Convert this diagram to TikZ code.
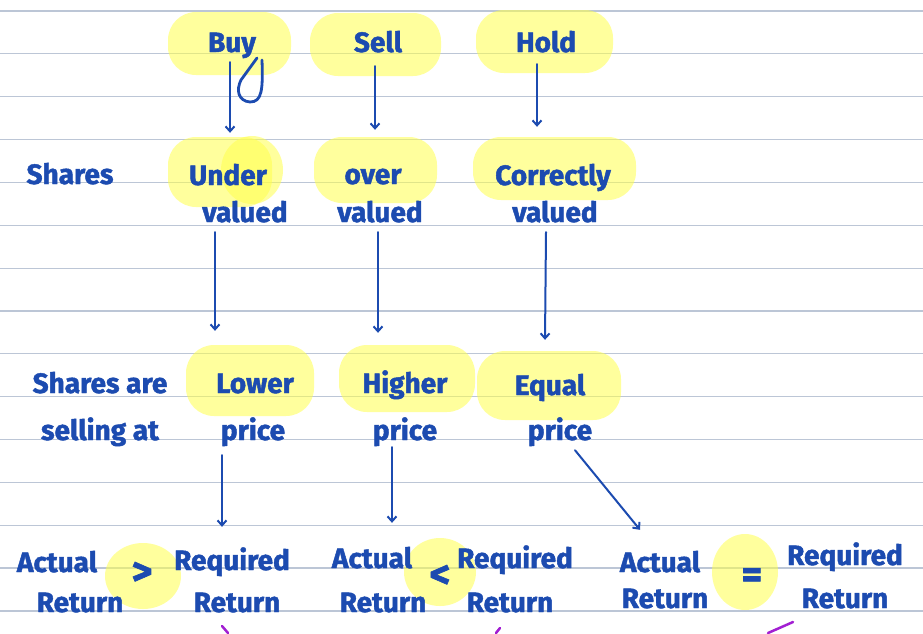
\documentclass[tikz,border=0pt]{standalone}
\usepackage{fontspec}
\setmainfont{Fira Sans}[FakeBold=1.6]
\usetikzlibrary{arrows.meta}
\definecolor{ink}{HTML}{1C4BB0}
\definecolor{ruleline}{HTML}{BCC6D6}
\definecolor{hl}{HTML}{FFFF4D}
\definecolor{pen}{HTML}{A21FD2}
\tikzset{
  hw/.style={font=\fontsize{28}{32}\selectfont\bfseries, text=ink, anchor=base,
             inner sep=1pt, text height=18pt, text depth=6pt},
  sym/.style={hw, font=\fontsize{40}{44}\selectfont\bfseries},
  hilite/.style={fill=hl, fill opacity=0.55},
  blob/.style={hilite, rounded corners=28pt},
  arr/.style={draw=ink, line width=2pt, line cap=round,
              -{Straight Barb[length=5pt,width=9pt]}},
  ruling/.style={draw=ruleline, line width=1.2pt},
  stroke/.style={draw=ink, line width=2.8pt, line cap=round},
}
\begin{document}
\begin{tikzpicture}[x=1pt,y=-1pt]
\useasboundingbox (0,0) rectangle (923,633);
\fill[white] (0,0) rectangle (923,633);

% ruled paper
\foreach \k in {0,...,14}
  \draw[ruling] (0,{11+42.85*\k}) -- (923,{11+42.85*\k});

% highlighter marks
\fill[blob] (168,12) rectangle (291,75);
\fill[blob] (310,13) rectangle (441,76);
\fill[blob] (476,10) rectangle (613,73);
\fill[blob] (168,137) rectangle (272,207);
\fill[hilite] (252,170) ellipse [x radius=31, y radius=34];
\fill[blob] (314,137) rectangle (437,203);
\fill[blob] (473,137) rectangle (636,200);
\fill[blob] (186,345) rectangle (314,416);
\fill[blob] (339,345) rectangle (475,412);
\fill[blob] (477,351) rectangle (621,420);
\fill[hilite] (143,576) ellipse [x radius=38, y radius=33];
\fill[hilite] (440,572) ellipse [x radius=36, y radius=34];
\fill[hilite] (745,572) ellipse [x radius=33, y radius=38];

% first row: decisions
\node[hw] (buy)  at (232,52) {Buy};
\node[hw] (sell) at (378,52) {Sell};
\node[hw] (hold) at (546,52) {Hold};
% long tail of the y in Buy
\draw[stroke] (257,58) -- (241,80) .. controls (236,90) and (238,101) .. (250,102)
  .. controls (262,102) and (263,90) .. (262,60);

% second row: valuation
\node[hw] (shares) at (70,184)  {Shares};
\node[hw] (under)  at (228,185) {Under};
\node[hw] (underv) at (245,222) {valued};
\node[hw] (over)   at (373,184) {over};
\node[hw] (overv)  at (380,222) {valued};
\node[hw] (corr)   at (553,185) {Correctly};
\node[hw] (corrv)  at (555,222) {valued};

% third row: price
\node[hw] (sharesare) at (100,393) {Shares are};
\node[hw] (sellingat) at (100,440) {selling at};
\node[hw] (lower)   at (255,393) {Lower};
\node[hw] (lowerp)  at (253,440) {price};
\node[hw] (higher)  at (405,393) {Higher};
\node[hw] (higherp) at (405,440) {price};
\node[hw] (equal)   at (550,395) {Equal};
\node[hw] (equalp)  at (560,440) {price};

% fourth row: returns
\node[hw]  (act1)  at (57,572)  {Actual};
\node[hw]  (act1r) at (80,612)  {Return};
\node[sym] (gt)    at (142,585) {>};
\node[hw]  (req1)  at (232,570) {Required};
\node[hw]  (req1r) at (237,612) {Return};
\node[hw]  (act2)  at (372,568) {Actual};
\node[hw]  (act2r) at (383,612) {Return};
\node[sym] (lt)    at (440,588) {<};
\node[hw]  (req2)  at (515,568) {Required};
\node[hw]  (req2r) at (510,612) {Return};
\node[hw]  (act3)  at (660,572) {Actual};
\node[hw]  (act3r) at (665,608) {Return};
\node[sym] (eq)    at (752,588) {=};
\node[hw]  (req3)  at (845,565) {Required};
\node[hw]  (req3r) at (845,608) {Return};

% connectors
\draw[arr] ([xshift=-2pt,yshift=-3pt]buy.south)    -- ([xshift=2pt,yshift=33pt]under.north);
\draw[arr] ([xshift=-3pt,yshift=-7pt]sell.south)   -- ([xshift=2pt,yshift=35pt]over.north);
\draw[arr] ([xshift=-9pt,yshift=-5pt]hold.south)   -- ([xshift=-16pt,yshift=39pt]corr.north);
\draw[arr] ([xshift=-30pt,yshift=-3pt]underv.south) -- ([xshift=-40pt,yshift=43pt]lower.north);
\draw[arr] ([xshift=-2pt,yshift=-3pt]overv.south)  -- ([xshift=-27pt,yshift=41pt]higher.north);
\draw[arr] ([xshift=-9pt,yshift=-3pt]corrv.south)  -- ([xshift=-5pt,yshift=36pt]equal.north);
\draw[arr] ([xshift=-31pt,yshift=-8pt]lowerp.south) -- ([xshift=-10pt,yshift=24pt]req1.north);
\draw[arr] ([xshift=-13pt,yshift=0pt]higherp.south) -- ([xshift=20pt,yshift=26pt]act2.north);
\draw[arr] ([xshift=15pt,yshift=-3pt]equalp.south) -- ([xshift=-20pt,yshift=23pt]act3.north);

% pen marks running off the page edge
\draw[pen, line width=2.5pt, line cap=round] (222,626) -- (228,633);
\draw[pen, line width=2.5pt, line cap=round] (496,633) -- (500,628);
\draw[pen, line width=2.5pt, line cap=round] (793,622) -- (768,633);
\end{tikzpicture}
\end{document}
